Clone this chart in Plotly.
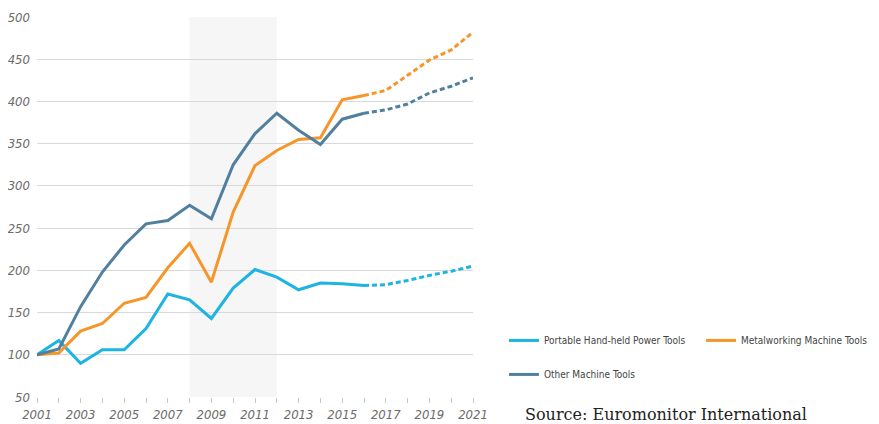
import plotly.graph_objects as go

actual_years = list(range(2001, 2017))
forecast_years = list(range(2016, 2022))

portable_actual = [100, 117, 90, 106, 106, 131, 172, 165, 143, 179, 201, 192, 177, 185, 184, 182]
portable_forecast = [182, 183, 188, 194, 199, 205]

metal_actual = [100, 102, 128, 137, 161, 168, 203, 232, 186, 269, 324, 342, 355, 357, 402, 407]
metal_forecast = [407, 413, 431, 449, 461, 482]

other_actual = [100, 107, 157, 198, 230, 255, 259, 277, 261, 325, 362, 386, 366, 349, 379, 386]
other_forecast = [386, 390, 397, 410, 418, 428]

series_names = ["Portable Hand-held Power Tools", "Metalworking Machine Tools", "Other Machine Tools"]
colors = ["#1db4e2", "#f6962a", "#51809e"]
legend_ids = ["legend", "legend2", "legend"]

x_tick_vals = list(range(2001, 2022, 2))
y_tick_vals = list(range(50, 501, 50))

shade_start, shade_end = 2008, 2012

fig = go.Figure()

data = [(portable_actual, portable_forecast), (metal_actual, metal_forecast), (other_actual, other_forecast)]
for name, color, lg, (act, fc) in zip(series_names, colors, legend_ids, data):
    fig.add_trace(go.Scatter(x=actual_years, y=act, mode="lines", name=name,
                             legendgroup=name, legend=lg,
                             line=dict(color=color, width=3)))
    fig.add_trace(go.Scatter(x=forecast_years, y=fc, mode="lines", name=name,
                             legendgroup=name, showlegend=False, legend=lg,
                             line=dict(color=color, width=3, dash="5px,3px")))

fig.add_shape(type="rect", xref="x", yref="paper", x0=shade_start, x1=shade_end,
              y0=0, y1=1, fillcolor="#f6f6f6", line=dict(width=0), layer="below")

cond_font = "DejaVu Sans Condensed, Liberation Sans Narrow, Roboto, sans-serif"
tick_font = dict(family=cond_font, size=13, color="#6b6b6b", style="italic")
legend_font = dict(family=cond_font, size=10, color="#444444")

fig.update_layout(
    width=871, height=416,
    margin=dict(l=29, r=406, t=9, b=27, autoexpand=False),
    paper_bgcolor="white", plot_bgcolor="rgba(0,0,0,0)",
    showlegend=True,
    legend=dict(orientation="v", x=1.071, y=0.187, xanchor="left", yanchor="top",
                tracegroupgap=15, font=legend_font, itemwidth=30,
                bgcolor="rgba(0,0,0,0)"),
    legend2=dict(orientation="v", x=1.523, y=0.187, xanchor="left", yanchor="top",
                 font=legend_font, itemwidth=30, bgcolor="rgba(0,0,0,0)"),
    xaxis=dict(range=[2001, 2021], tickvals=x_tick_vals, ticktext=[str(v) for v in x_tick_vals],
               showgrid=False, zeroline=False, showline=False, automargin=False,
               ticks="outside", ticklen=5, tickcolor="#c8c8c8",
               minor=dict(dtick=1, tick0=2001, ticks="outside", ticklen=5, tickcolor="#c8c8c8"),
               tickfont=tick_font),
    yaxis=dict(range=[50, 500], tickvals=y_tick_vals, showgrid=True, gridcolor="#d9d9d9",
               gridwidth=1, zeroline=False, showline=False, ticks="", tickfont=tick_font,
               automargin=False, ticklabelstandoff=6),
    annotations=[dict(text="Source: Euromonitor International", xref="paper", yref="paper",
                      x=1.115, y=-0.047, xanchor="left", yanchor="middle", showarrow=False,
                      font=dict(family="DejaVu Serif, Liberation Serif, serif", size=16, color="#222222"))],
)

fig.write_html("out.html")
